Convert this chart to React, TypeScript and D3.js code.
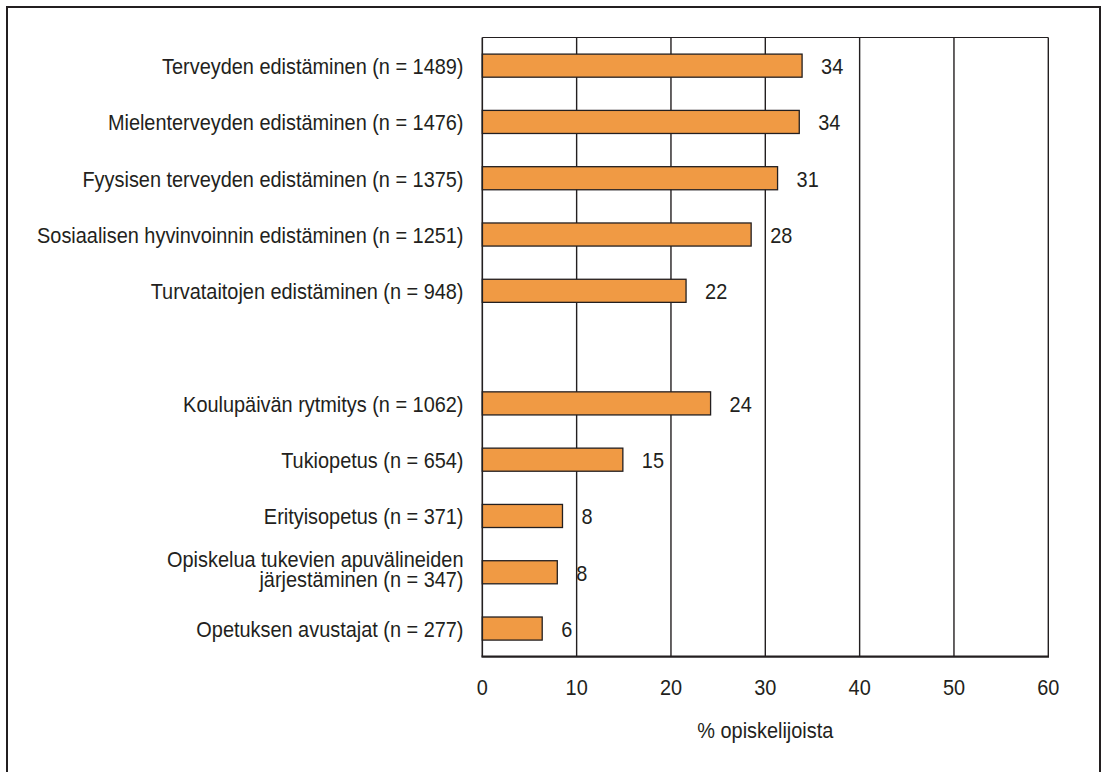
import React from "react";
import * as d3 from "d3";

const categories: string[][] = [
  ["Terveyden edistäminen (n = 1489)"],
  ["Mielenterveyden edistäminen (n = 1476)"],
  ["Fyysisen terveyden edistäminen (n = 1375)"],
  ["Sosiaalisen hyvinvoinnin edistäminen (n = 1251)"],
  ["Turvataitojen edistäminen (n = 948)"],
  [],
  ["Koulupäivän rytmitys (n = 1062)"],
  ["Tukiopetus (n = 654)"],
  ["Erityisopetus (n = 371)"],
  ["Opiskelua tukevien apuvälineiden", "järjestäminen (n = 347)"],
  ["Opetuksen avustajat (n = 277)"],
];
const values: (number | null)[] = [33.9, 33.6, 31.3, 28.5, 21.6, null, 24.2, 14.9, 8.5, 7.95, 6.35];
const valueLabels: string[] = ["34", "34", "31", "28", "22", "", "24", "15", "8", "8", "6"];
const ticks: number[] = [0, 10, 20, 30, 40, 50, 60];
const axisTitle = "% opiskelijoista";

const W = 1103;
const H = 772;
const FONT = "'Liberation Sans', Arial, Helvetica, sans-serif";
const FS = 22;
const SX = 0.905;
const INK = "#231f20";

function T({ x, y, anchor, children }: { x: number; y: number; anchor: "start" | "middle" | "end"; children: React.ReactNode }) {
  return (
    <g transform={`translate(${x},${y}) scale(${SX},1)`}>
      <text x={0} y={0} textAnchor={anchor} fontFamily={FONT} fontSize={FS} fill={INK}>
        {children}
      </text>
    </g>
  );
}

export default function App() {
  const left = 482.3, right = 1048.3, top = 37.5, bottom = 656.7;
  const x = d3.scaleLinear().domain([0, 60]).range([left, right]);
  const idx = categories.map((_, i) => String(i));
  const y = d3.scaleBand().domain(idx).range([top, bottom]).paddingInner(0.59).paddingOuter(0.295);
  const bw = y.bandwidth();

  return (
    <svg width={W} height={H} style={{ position: "absolute", left: 0, top: 0, background: "#fff" }}>
      <rect x={7} y={7} width={1093} height={820} fill="#fff" stroke={INK} strokeWidth={2} />
      {ticks.slice(1).map((t) => (
        <line key={t} x1={x(t)} x2={x(t)} y1={top} y2={bottom} stroke={INK} strokeWidth={1.4} />
      ))}
      <line x1={left} x2={right} y1={top} y2={top} stroke={INK} strokeWidth={1.2} />
      {values.map((v, i) =>
        v == null ? null : (
          <rect key={i} x={x(0)} y={y(String(i))!} width={x(v) - x(0)} height={bw} fill="#F09A44" stroke={INK} strokeWidth={1.3} />
        )
      )}
      <line x1={left} x2={left} y1={top} y2={bottom} stroke={INK} strokeWidth={1.6} />
      <line x1={left - 0.8} x2={right + 0.7} y1={bottom} y2={bottom} stroke={INK} strokeWidth={2.2} />
      {values.map((v, i) =>
        v == null ? null : (
          <T key={i} x={x(v) + 19} y={(y(String(i)) as number) + bw / 2 + 8.5} anchor="start">
            {valueLabels[i]}
          </T>
        )
      )}
      {categories.map((lines, i) => {
        const cy = (y(String(i)) as number) + bw / 2;
        const base = lines.length > 1 ? 5 : 8.5;
        return lines.map((ln, j) => (
          <T key={`${i}-${j}`} x={463.5} y={cy + base + (j - (lines.length - 1) / 2) * 20} anchor="end">
            {ln}
          </T>
        ));
      })}
      {ticks.map((t) => (
        <T key={t} x={x(t)} y={695} anchor="middle">
          {t}
        </T>
      ))}
      <T x={(left + right) / 2} y={738} anchor="middle">
        {axisTitle}
      </T>
    </svg>
  );
}
